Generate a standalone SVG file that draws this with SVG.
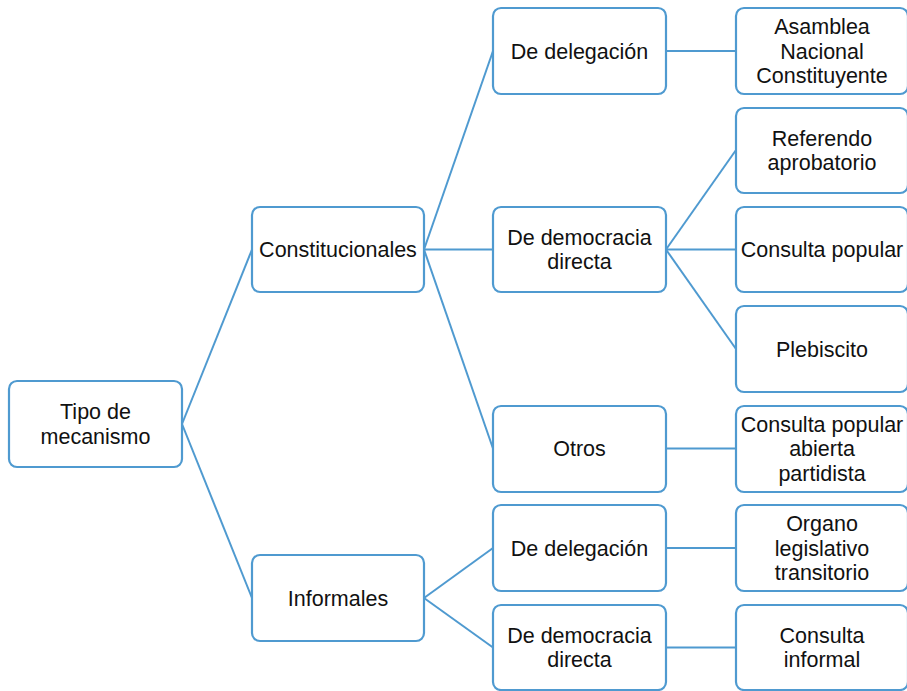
<svg xmlns="http://www.w3.org/2000/svg" width="907" height="691" viewBox="0 0 907 691">
<style>
.box{fill:#fff;stroke:#4f9ad0;stroke-width:2.2}
.t{font-family:"Liberation Sans",Arial,sans-serif;font-size:21.5px;fill:#111;text-anchor:middle}
.c{stroke:#4f9ad0;stroke-width:2;fill:none}
</style>
<rect width="907" height="691" fill="#fff"/>
<g id="connectors">
<line class="c" x1="182" y1="424" x2="252" y2="249.5"/>
<line class="c" x1="182" y1="424" x2="252" y2="598"/>
<line class="c" x1="424" y1="249.5" x2="493" y2="51"/>
<line class="c" x1="424" y1="249.5" x2="493" y2="249.5"/>
<line class="c" x1="424" y1="249.5" x2="493" y2="448.5"/>
<line class="c" x1="666" y1="51" x2="736" y2="51"/>
<line class="c" x1="666" y1="249.5" x2="736" y2="150"/>
<line class="c" x1="666" y1="249.5" x2="736" y2="249.5"/>
<line class="c" x1="666" y1="249.5" x2="736" y2="349"/>
<line class="c" x1="666" y1="448.5" x2="736" y2="448.5"/>
<line class="c" x1="424" y1="598" x2="493" y2="548"/>
<line class="c" x1="424" y1="598" x2="493" y2="647.5"/>
<line class="c" x1="666" y1="548" x2="736" y2="548"/>
<line class="c" x1="666" y1="647.5" x2="736" y2="647.5"/>
</g>
<g id="tipo"><rect class="box" x="9" y="381" width="173" height="86" rx="8"/><text class="t" x="95.5" y="419">Tipo de</text><text class="t" x="95.5" y="443.5">mecanismo</text></g>
<g id="constitucionales"><rect class="box" x="252" y="207" width="172" height="85" rx="8"/><text class="t" x="338" y="257">Constitucionales</text></g>
<g id="informales"><rect class="box" x="252" y="555" width="172" height="86" rx="8"/><text class="t" x="338" y="605.5">Informales</text></g>
<g id="c-delegacion"><rect class="box" x="493" y="8" width="173" height="86" rx="8"/><text class="t" x="579.5" y="58.5">De delegación</text></g>
<g id="c-democracia"><rect class="box" x="493" y="207" width="173" height="85" rx="8"/><text class="t" x="579.5" y="244.5">De democracia</text><text class="t" x="579.5" y="269">directa</text></g>
<g id="otros"><rect class="box" x="493" y="406" width="173" height="86" rx="8"/><text class="t" x="579.5" y="456">Otros</text></g>
<g id="i-delegacion"><rect class="box" x="493" y="505" width="173" height="86" rx="8"/><text class="t" x="579.5" y="555.5">De delegación</text></g>
<g id="i-democracia"><rect class="box" x="493" y="605" width="173" height="85" rx="8"/><text class="t" x="579.5" y="642.5">De democracia</text><text class="t" x="579.5" y="667">directa</text></g>
<g id="asamblea"><rect class="box" x="736" y="8" width="172" height="86" rx="8"/><text class="t" x="822" y="34">Asamblea</text><text class="t" x="822" y="58.5">Nacional</text><text class="t" x="822" y="83">Constituyente</text></g>
<g id="referendo"><rect class="box" x="736" y="108" width="172" height="85" rx="8"/><text class="t" x="822" y="145.5">Referendo</text><text class="t" x="822" y="170">aprobatorio</text></g>
<g id="consulta-popular"><rect class="box" x="736" y="207" width="172" height="85" rx="8"/><text class="t" x="822" y="257">Consulta popular</text></g>
<g id="plebiscito"><rect class="box" x="736" y="306" width="172" height="86" rx="8"/><text class="t" x="822" y="356.5">Plebiscito</text></g>
<g id="consulta-abierta"><rect class="box" x="736" y="406" width="172" height="86" rx="8"/><text class="t" x="822" y="431.5">Consulta popular</text><text class="t" x="822" y="456">abierta</text><text class="t" x="822" y="480.5">partidista</text></g>
<g id="organo"><rect class="box" x="736" y="505" width="172" height="86" rx="8"/><text class="t" x="822" y="531">Organo</text><text class="t" x="822" y="555.5">legislativo</text><text class="t" x="822" y="580">transitorio</text></g>
<g id="consulta-informal"><rect class="box" x="736" y="605" width="172" height="85" rx="8"/><text class="t" x="822" y="642.5">Consulta</text><text class="t" x="822" y="667">informal</text></g>
</svg>
